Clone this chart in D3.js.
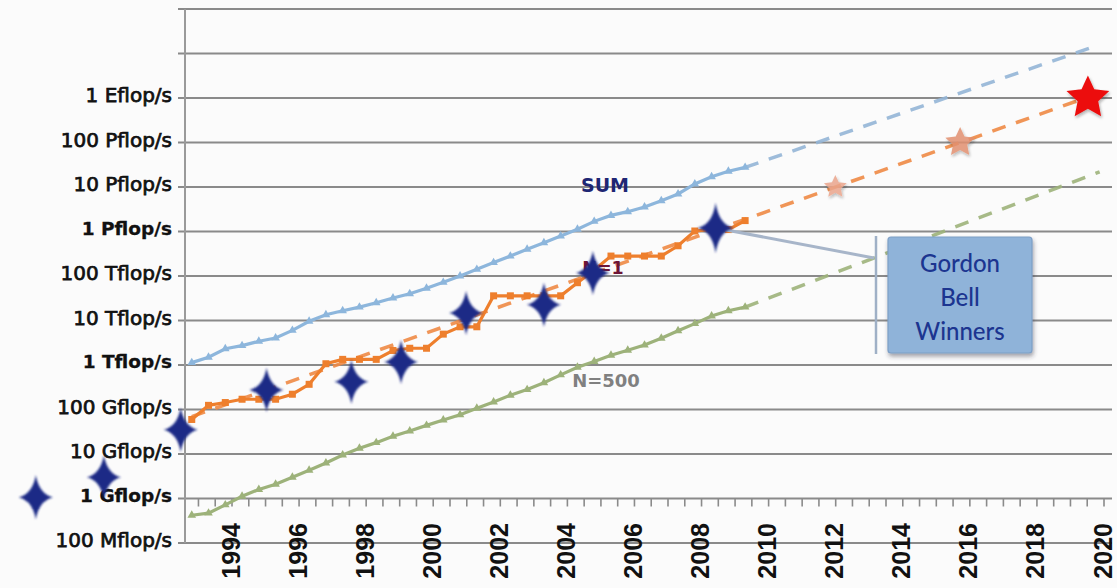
<!DOCTYPE html>
<html><head><meta charset="utf-8">
<script src="https://cdn.jsdelivr.net/npm/d3@7/dist/d3.min.js"></script>
<style>body{margin:0;background:#fbfbfb;} svg{display:block;}</style>
</head><body><svg id="c" width="1117" height="588"></svg>
<script>
// ---------- data ----------
const yTickValues = [1e8,1e9,1e10,1e11,1e12,1e13,1e14,1e15,1e16,1e17,1e18,1e19,1e20];
const yTickLabels = ["100 Mflop/s","1 Gflop/s","10 Gflop/s","100 Gflop/s","1 Tflop/s","10 Tflop/s","100 Tflop/s","1 Pflop/s","10 Pflop/s","100 Pflop/s","1 Eflop/s","",""];
const boldLabels = ["1 Gflop/s","1 Tflop/s","1 Pflop/s"];
const xTickYears = [1994,1996,1998,2000,2002,2004,2006,2008,2010,2012,2014,2016,2018,2020];

const listDates = [1992.8,1993.3,1993.8,1994.3,1994.8,1995.3,1995.8,1996.3,1996.8,1997.3,1997.8,1998.3,1998.8,1999.3,1999.8,2000.3,2000.8,2001.3,2001.8,2002.3,2002.8,2003.3,2003.8,2004.3,2004.8,2005.3,2005.8,2006.3,2006.8,2007.3,2007.8,2008.3,2008.8,2009.3];
const sumFlops = [1.13e12,1.49e12,2.32e12,2.73e12,3.41e12,4.05e12,6.0e12,9.6e12,1.35e13,1.66e13,2.0e13,2.5e13,3.2e13,4.0e13,5.3e13,7.2e13,1.0e14,1.41e14,2.0e14,2.8e14,4.0e14,5.6e14,7.9e14,1.127e15,1.69e15,2.3e15,2.79e15,3.54e15,4.92e15,6.97e15,1.17e16,1.70e16,2.26e16,2.76e16];
const n1Flops = [5.97e10,1.24e11,1.434e11,1.70e11,1.70e11,1.70e11,2.204e11,3.682e11,1.068e12,1.338e12,1.338e12,1.338e12,2.121e12,2.379e12,2.379e12,4.938e12,7.226e12,7.226e12,3.586e13,3.586e13,3.586e13,3.586e13,3.586e13,7.072e13,1.368e14,2.806e14,2.806e14,2.806e14,2.806e14,4.782e14,1.026e15,1.105e15,1.105e15,1.759e15];
const n500Flops = [4.2e8,4.7e8,7.2e8,1.12e9,1.6e9,2.1e9,3.0e9,4.3e9,6.3e9,9.5e9,1.35e10,1.8e10,2.5e10,3.3e10,4.4e10,5.8e10,7.6e10,1.07e11,1.48e11,2.1e11,2.8e11,4.0e11,6.0e11,8.9e11,1.2e12,1.66e12,2.14e12,2.8e12,4.0e12,5.9e12,8.5e12,1.26e13,1.66e13,2.0e13];

const sumTrendYears = [2009.3, 2019.55];
const sumTrendFlops = [2.76e16, 1.3e19];
const n1TrendYears = [1992.8, 2019.52];
const n1TrendFlops = [6.9e10, 1.05e18];
const n500TrendYears = [2009.3, 2019.87];
const n500TrendFlops = [2.0e13, 2.2e16];

const gbYears = [1988.15,1990.18,1992.47,1995.03,1997.56,1999.04,2000.98,2003.30,2004.76,2008.42];
const gbFlops = [1.07e9,3.0e9,3.5e10,2.75e11,4.2e11,1.17e12,1.48e13,2.25e13,1.17e14,1.2e15];

const futureYears = [2011.99, 2015.71, 2019.52];
const futureFlops = [1e16, 1e17, 1e18];

// ---------- styles ----------
const cSum = "#8db6dc", cN1 = "#ee7f2d", cN500 = "#9db27a", cStar = "#1b2a86";

const svg = d3.select("#c");
const x = d3.scaleLinear().domain([1994, 2020]).range([232, 1104]);
const y = d3.scaleLog().domain([1e8, 1e20]).range([543, 9]);
const plotL = 185, plotR = 1112;

const defs = svg.append("defs");
const glow = defs.append("filter").attr("id","glow").attr("x","-50%").attr("y","-50%").attr("width","200%").attr("height","200%");
glow.append("feGaussianBlur").attr("in","SourceGraphic").attr("stdDeviation",1.0);
const shadow = defs.append("filter").attr("id","shadow").attr("x","-20%").attr("y","-20%").attr("width","140%").attr("height","150%");
shadow.append("feDropShadow").attr("dx",1).attr("dy",3).attr("stdDeviation",2).attr("flood-color","#334").attr("flood-opacity",0.45);
const sshadow = defs.append("filter").attr("id","sshadow").attr("x","-50%").attr("y","-50%").attr("width","200%").attr("height","200%");
sshadow.append("feDropShadow").attr("dx",1).attr("dy",2).attr("stdDeviation",1.5).attr("flood-color","#222").attr("flood-opacity",0.35);

// background
svg.append("rect").attr("width",1117).attr("height",588).attr("fill","#fbfbfb");

// gridlines
svg.append("g").selectAll("line").data(yTickValues).join("line")
  .attr("x1", 178).attr("x2", plotR)
  .attr("y1", d => y(d)).attr("y2", d => y(d))
  .attr("stroke", "#8a8a8a").attr("stroke-width", 1.8);

// y axis line
svg.append("line").attr("x1",plotL).attr("x2",plotL).attr("y1",y(1e20)).attr("y2",y(1e8))
  .attr("stroke","#9a9a9a").attr("stroke-width",2);

// y labels
svg.append("g").selectAll("text").data(yTickValues).join("text")
  .attr("x", 172).attr("y", d => y(d) - 3).attr("dy","0.35em")
  .attr("text-anchor","end")
  .attr("font-family","DejaVu Sans, Verdana, sans-serif")
  .attr("font-size", (d,i) => boldLabels.includes(yTickLabels[i]) ? 18.5 : 20)
  .attr("font-weight", (d,i) => boldLabels.includes(yTickLabels[i]) ? "bold" : "normal")
  .attr("fill","#111")
  .attr("stroke", "#111")
  .attr("stroke-width", (d,i) => boldLabels.includes(yTickLabels[i]) ? 0.3 : 0.75)
  .text((d,i) => yTickLabels[i]);

// x axis ticks (half years) on the 1 Gflop/s line
const halfYears = d3.range(1993, 2020.01, 0.5);
const axisY = y(1e9);
svg.append("g").selectAll("line").data(halfYears).join("line")
  .attr("x1", d => x(d)).attr("x2", d => x(d))
  .attr("y1", axisY).attr("y2", axisY + 8)
  .attr("stroke","#8a8a8a").attr("stroke-width",1.6);

// x labels
svg.append("g").selectAll("text").data(xTickYears).join("text")
  .attr("transform", d => `translate(${x(d)},523) rotate(-90)`)
  .attr("text-anchor","end").attr("dy","0.3em")
  .attr("font-family","Liberation Sans, Arial, sans-serif").attr("font-weight","bold")
  .attr("font-size", 25).attr("fill","#111")
  .text(d => d);

// trend lines
function dashed(years, vals, color) {
  svg.append("path")
    .datum(years.map((t,i)=>[t, vals[i]]))
    .attr("d", d3.line().x(d=>x(d[0])).y(d=>y(d[1])))
    .attr("fill","none").attr("stroke",color).attr("stroke-width",3.5)
    .attr("stroke-dasharray","14 11").attr("opacity",0.9);
}
dashed(n1TrendYears, n1TrendFlops, "#ee8a45");
dashed(sumTrendYears, sumTrendFlops, "#93b5d6");
dashed(n500TrendYears, n500TrendFlops, "#9db27a");

// series lines
function series(vals, color, marker) {
  const pts = listDates.map((t,i)=>[t, vals[i]]);
  svg.append("path").datum(pts)
    .attr("d", d3.line().x(d=>x(d[0])).y(d=>y(d[1])))
    .attr("fill","none").attr("stroke",color).attr("stroke-width",3.2);
  const g = svg.append("g");
  if (marker === "square") {
    g.selectAll("rect").data(pts).join("rect")
      .attr("x", d=>x(d[0])-3.5).attr("y", d=>y(d[1])-3.5)
      .attr("width",7).attr("height",7).attr("fill",color);
  } else {
    g.selectAll("path").data(pts).join("path")
      .attr("transform", d=>`translate(${x(d[0])},${y(d[1])})`)
      .attr("d", d3.symbol(d3.symbolTriangle, 32)).attr("fill",color);
  }
}
series(sumFlops, cSum, "tri");
series(n500Flops, cN500, "tri");
series(n1Flops, cN1, "square");

// series labels
svg.append("text").attr("x",605).attr("y",185).attr("dy","0.35em").attr("text-anchor","middle")
  .attr("font-family","DejaVu Sans, sans-serif").attr("font-weight","bold").attr("font-size",19)
  .attr("fill","#1f2673").text("SUM");
svg.append("text").attr("x",603).attr("y",268).attr("dy","0.35em").attr("text-anchor","middle")
  .attr("font-family","DejaVu Sans, sans-serif").attr("font-weight","bold").attr("font-size",17.5)
  .attr("fill","#6e1536").text("N=1");
svg.append("text").attr("x",606).attr("y",381).attr("dy","0.35em").attr("text-anchor","middle")
  .attr("font-family","DejaVu Sans, sans-serif").attr("font-weight","bold").attr("font-size",18)
  .attr("fill","#808080").text("N=500");

// 5-point stars (future)
function star5(R, r) {
  const p = [];
  for (let k = 0; k < 10; k++) {
    const a = -Math.PI/2 + k*Math.PI/5;
    const rad = k % 2 === 0 ? R : r;
    p.push([rad*Math.cos(a), rad*Math.sin(a)]);
  }
  return "M" + p.map(q=>q.join(",")).join("L") + "Z";
}
const futureR = [12, 15.5, 22.5];
const futureFill = ["#eaa58c", "#e2906f", "#ec1010"];
const futureOp = [0.85, 0.85, 1];
svg.append("g").selectAll("path").data(futureYears).join("path")
  .attr("transform", (d,i)=>`translate(${x(d)},${y(futureFlops[i])})`)
  .attr("d", (d,i)=>star5(futureR[i], futureR[i]*0.48))
  .attr("fill",(d,i)=>futureFill[i]).attr("opacity",(d,i)=>futureOp[i])
  .attr("filter","url(#sshadow)");

// callout line from last Gordon Bell star to box
const lastGB = gbYears.length - 1;
svg.append("line").attr("x1", x(gbYears[lastGB])).attr("y1", y(gbFlops[lastGB]))
  .attr("x2", 874).attr("y2", 258).attr("stroke","#a7b5c9").attr("stroke-width",3);
svg.append("line").attr("x1",876).attr("x2",876).attr("y1",236).attr("y2",354)
  .attr("stroke","#9fb0c6").attr("stroke-width",2.5);

// Gordon Bell stars (4-pointed)
function star4(R, r) {
  const w = 3.4;
  return `M0,${-R} Q${w},${-w} ${r},0 Q${w},${w} 0,${R} Q${-w},${w} ${-r},0 Q${-w},${-w} 0,${-R}Z`;
}
svg.append("g").selectAll("path").data(gbYears).join("path")
  .attr("transform", (d,i)=>`translate(${x(d)},${y(gbFlops[i])})`)
  .attr("d", (d,i)=> i === lastGB ? star4(25, 18) : star4(22, 17))
  .attr("fill", cStar).attr("filter","url(#glow)");

// Gordon Bell box
svg.append("rect").attr("x",888).attr("y",237).attr("width",144).attr("height",116).attr("rx",3)
  .attr("fill","#8fb3d9").attr("stroke","#7d9fc6").attr("stroke-width",1.2).attr("filter","url(#shadow)");
const gbText = ["Gordon","Bell","Winners"];
svg.append("g").selectAll("text").data(gbText).join("text")
  .attr("x",960).attr("y",(d,i)=>264 + i*34).attr("dy","0.35em").attr("text-anchor","middle")
  .attr("font-family","Lato, 'Noto Sans', sans-serif").attr("font-size",24).attr("font-weight",500)
  .attr("fill","#1c3590").text(d=>d);
</script></body></html>
